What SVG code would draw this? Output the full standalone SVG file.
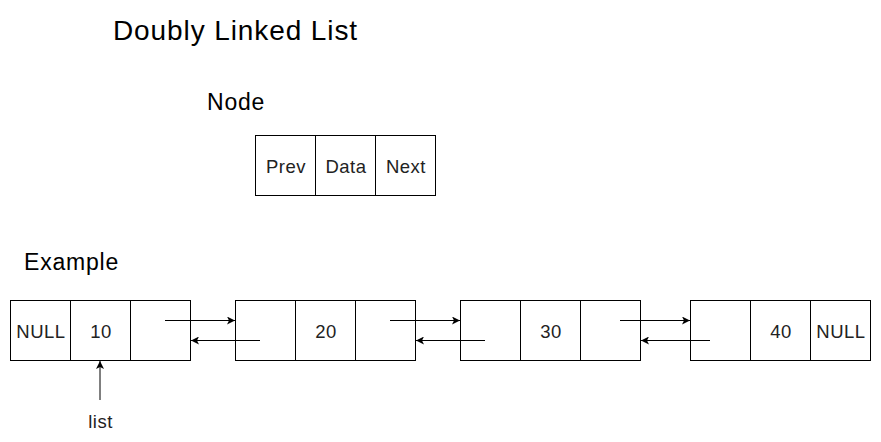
<svg xmlns="http://www.w3.org/2000/svg" width="881" height="442" viewBox="0 0 881 442">
<defs>
<marker id="arr" markerWidth="10" markerHeight="8" refX="8" refY="4" orient="auto" markerUnits="userSpaceOnUse">
<path d="M0,0 L8,4 L0,8 L2,4 Z" fill="#000"/>
</marker>
<style>
.cell{fill:#fff;stroke:#000;stroke-width:1}
.t{font-family:"Liberation Sans",Arial,sans-serif;fill:#000}
.c{font-size:18.5px;text-anchor:middle;fill:#222;letter-spacing:0.5px}
.lbl{font-size:23px;letter-spacing:0.8px}
.ln{stroke:#000;stroke-width:1;fill:none;marker-end:url(#arr)}
</style>
</defs>
<rect width="881" height="442" fill="#fff"/>
<text class="t" x="113" y="40" font-size="28" letter-spacing="0.9">Doubly Linked List</text>
<text class="t lbl" x="207" y="110">Node</text>
<text class="t lbl" x="24" y="270">Example</text>
<g id="node-template">
<rect class="cell" x="255.5" y="135.5" width="60" height="60"/>
<rect class="cell" x="315.5" y="135.5" width="60" height="60"/>
<rect class="cell" x="375.5" y="135.5" width="60" height="60"/>
<text class="t c" x="286" y="173">Prev</text>
<text class="t c" x="346" y="173">Data</text>
<text class="t c" x="406" y="173">Next</text>
</g>
<g id="node-10">
<rect class="cell" x="10.5" y="300.5" width="60" height="60"/>
<rect class="cell" x="70.5" y="300.5" width="60" height="60"/>
<rect class="cell" x="130.5" y="300.5" width="60" height="60"/>
<text class="t c" x="41" y="338">NULL</text>
<text class="t c" x="101" y="338">10</text>
</g>
<g id="node-20">
<rect class="cell" x="235.5" y="300.5" width="60" height="60"/>
<rect class="cell" x="295.5" y="300.5" width="60" height="60"/>
<rect class="cell" x="355.5" y="300.5" width="60" height="60"/>
<text class="t c" x="326" y="338">20</text>
</g>
<g id="node-30">
<rect class="cell" x="460.5" y="300.5" width="60" height="60"/>
<rect class="cell" x="520.5" y="300.5" width="60" height="60"/>
<rect class="cell" x="580.5" y="300.5" width="60" height="60"/>
<text class="t c" x="551" y="338">30</text>
</g>
<g id="node-40">
<rect class="cell" x="690.5" y="300.5" width="60" height="60"/>
<rect class="cell" x="750.5" y="300.5" width="60" height="60"/>
<rect class="cell" x="810.5" y="300.5" width="60" height="60"/>
<text class="t c" x="781" y="338">40</text>
<text class="t c" x="841" y="338">NULL</text>
</g>
<g id="list-label">
<text class="t c" x="100.5" y="428">list</text>
</g>
<g id="connectors">
<line class="ln" x1="165" y1="320.5" x2="235" y2="320.5"/>
<line class="ln" x1="260" y1="340.5" x2="191" y2="340.5"/>
<line class="ln" x1="390" y1="320.5" x2="460" y2="320.5"/>
<line class="ln" x1="485" y1="340.5" x2="416" y2="340.5"/>
<line class="ln" x1="620" y1="320.5" x2="690" y2="320.5"/>
<line class="ln" x1="710" y1="340.5" x2="641" y2="340.5"/>
<line class="ln" x1="100" y1="400" x2="100" y2="361"/>
</g>
</svg>
